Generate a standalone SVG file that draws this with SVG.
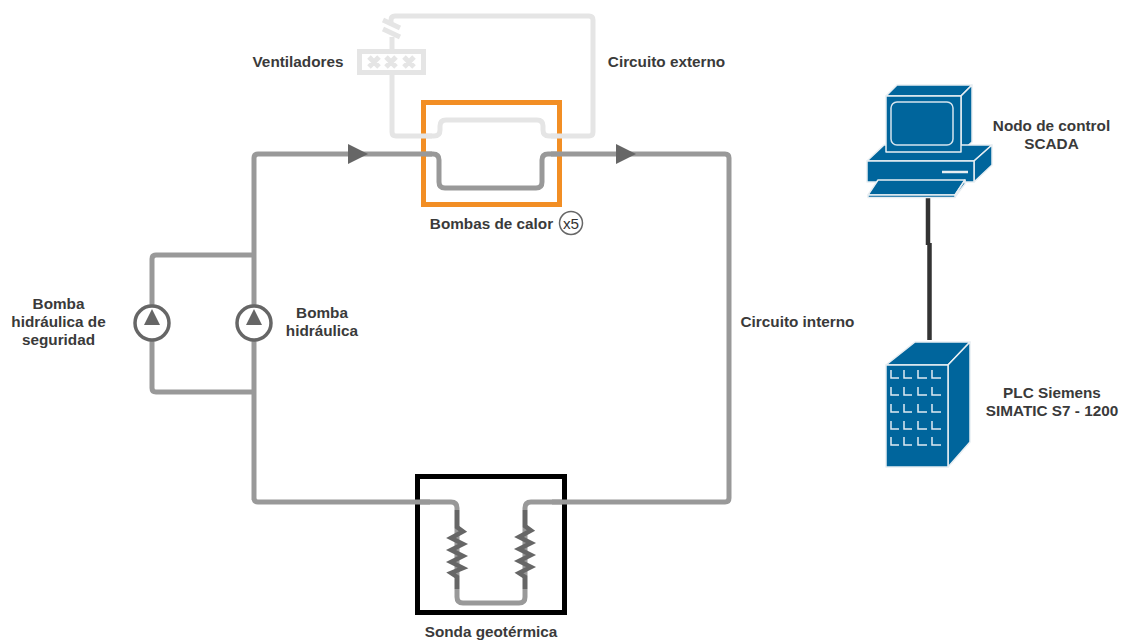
<svg xmlns="http://www.w3.org/2000/svg" width="1122" height="640" viewBox="0 0 1122 640">
<style>
text{font-family:"Liberation Sans",Arial,sans-serif;font-weight:700;font-size:15.3px;fill:#3a3a3a;text-anchor:middle}
.pipe{fill:none;stroke:#999;stroke-width:5;stroke-linejoin:round}
.light{fill:none;stroke:#e5e5e5;stroke-width:5;stroke-linejoin:round}
.dark{fill:none;stroke:#666;stroke-width:4.5;stroke-linejoin:miter;stroke-miterlimit:10}
.head{fill:#666}
.eq{fill:#00659c;stroke:#e8eef2;stroke-width:1.5;stroke-linejoin:round}
.ln{fill:none;stroke:#dfeaf2;stroke-width:1.5}
</style>
<g id="connectors">
<path class="light" d="M391 24V20Q391 16 395 16H589Q593 16 593 20V132Q593 136 589 136H549Q543 136 543 130V126Q543 120 537 120H446Q440 120 440 126V130Q440 136 434 136H396Q392 136 392 132V75"/>
<path class="light" d="M392 49V37"/>
<path class="light" d="M383 20L400 28M383 29L400 37" stroke-width="4"/>
<path class="pipe" d="M254 500V158Q254 154 258 154H433Q439 154 439 160V182Q439 188 445 188H536Q542 188 542 182V160Q542 154 548 154H725Q729 154 729 158V498Q729 502 725 502H531Q525 502 525 508V597Q525 603 519 603H463Q457 603 457 597V508Q457 502 451 502H258Q254 502 254 498"/>
<path class="pipe" d="M254 255H156Q152 255 152 259V388Q152 392 156 392H254"/>
<path d="M928 198V245M929.5 243V340" fill="none" stroke="#333" stroke-width="4.5"/>
<path class="head" d="M348 144L368 154L348 164Z"/>
<path class="head" d="M616 144L636 154L616 164Z"/>
</g>
<g id="ventiladores">
<rect x="359.5" y="51.5" width="64" height="21" fill="#fff" stroke="#e5e5e5" stroke-width="5"/>
<path d="M369 57L379 67M379 57L369 67M386 57L396 67M396 57L386 67M404 57L414 67M414 57L404 67" stroke="#e5e5e5" stroke-width="5" fill="none"/>
<text x="298" y="67">Ventiladores</text>
</g>
<g id="circuito-externo"><text x="666.5" y="67">Circuito externo</text></g>
<g id="bombas-calor">
<rect x="423.5" y="102.5" width="136" height="102" fill="none" stroke="#f28e24" stroke-width="5"/>
<path class="light" d="M421 136H432M551 136H562" stroke-linejoin="miter"/>
<path class="pipe" d="M421 154H432M551 154H562"/>
<text x="491.5" y="229">Bombas de calor</text>
<circle cx="571" cy="223" r="11.5" fill="#fff" stroke="#666" stroke-width="1.5"/>
<text x="571" y="229" style="font-weight:400;fill:#333">x5</text>
</g>
<g id="bomba-seguridad">
<circle cx="152" cy="323" r="17" fill="#fff" stroke="#666" stroke-width="3.5"/>
<path class="head" d="M152 309L160 325H144Z"/>
<text x="58.5" y="309">Bomba</text><text x="58.5" y="327">hidráulica de</text><text x="58.5" y="345">seguridad</text>
</g>
<g id="bomba">
<circle cx="254" cy="323" r="17" fill="#fff" stroke="#666" stroke-width="3.5"/>
<path class="head" d="M254 309L262 325H246Z"/>
<text x="322" y="318">Bomba</text><text x="322" y="336">hidráulica</text>
</g>
<g id="circuito-interno"><text x="797.5" y="327">Circuito interno</text></g>
<g id="sonda">
<rect x="417.5" y="476.5" width="147" height="136" fill="none" stroke="#000" stroke-width="5"/>
<path class="pipe" d="M415 502H430M552 502H567"/>
<path class="dark" d="M457 510V527L463 531.5L451 538L463 544L451 550L463 556L451 562L463 568L451 573L457 577V589"/>
<path class="dark" d="M525 510V526L531 530.5L519 537L531 543L519 549L531 555L519 561L531 567L519 573L525 577V589"/>
<text x="491" y="637">Sonda geotérmica</text>
</g>
<g id="scada">
<path class="eq" d="M886 96L897 85H972L961 96Z"/>
<path class="eq" d="M961 96L972 85V142L961 152Z"/>
<path class="eq" d="M867 161L884 145H992L974 161Z"/>
<path class="eq" d="M974 161L992 145V165L974 182Z"/>
<rect class="eq" x="867" y="161" width="107" height="21"/>
<rect class="eq" x="886" y="96" width="75" height="56"/>
<rect x="891" y="102" width="62" height="43" rx="6" fill="none" stroke="#d5e4ee" stroke-width="1.5"/>
<path d="M942 172H968" stroke="#e8eef2" stroke-width="2.5"/>
<path class="eq" d="M878 180H965L955 195H868Z"/>
<path class="eq" d="M965 180V184L955 197V195Z"/>
<rect class="eq" x="868" y="195" width="87" height="2.5"/>
<text x="1051.5" y="131">Nodo de control</text><text x="1051.5" y="149">SCADA</text>
</g>
<g id="plc">
<path class="eq" d="M886 365L915 342H970L948 365Z"/>
<path class="eq" d="M948 365L970 342V442L948 467Z"/>
<rect class="eq" x="886" y="365" width="62" height="102"/>
<path class="ln" d="M891 370V378H899M904 370V378H912M918 370V378H927M932 370V378H941M891 387V395H899M904 387V395H912M918 387V395H927M932 387V395H941M891 404V412H899M904 404V412H912M918 404V412H927M932 404V412H941M891 421V429H899M904 421V429H912M918 421V429H927M932 421V429H941M891 437V445H899M904 437V445H912M918 437V445H927M932 437V445H941"/>
<text x="1052" y="398">PLC Siemens</text><text x="1052" y="416">SIMATIC S7 - 1200</text>
</g>
</svg>
